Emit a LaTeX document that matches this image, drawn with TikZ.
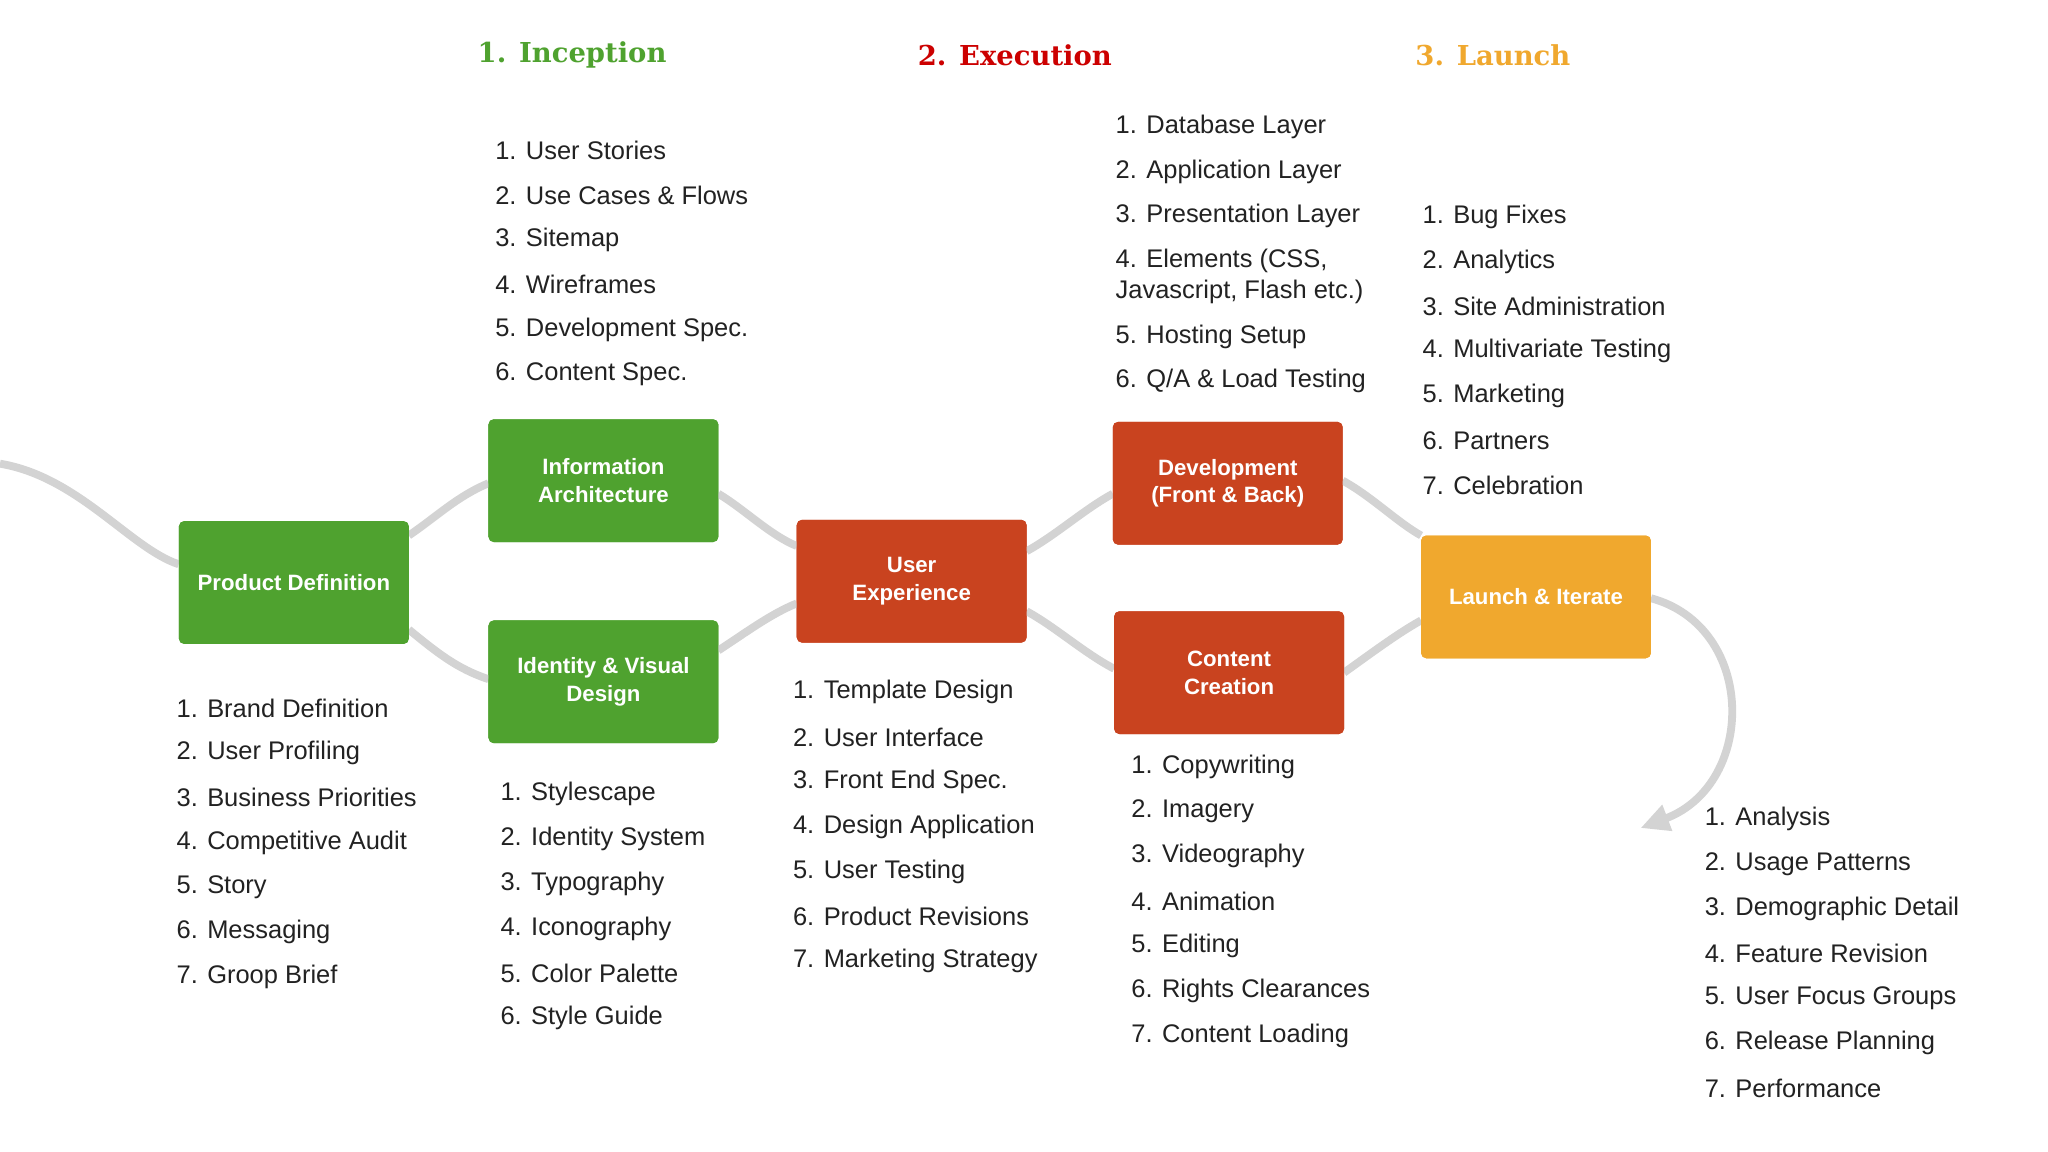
\documentclass[tikz,border=0pt]{standalone}
\usepackage{fontspec}
\setmainfont{Liberation Sans}
\newfontfamily\headfont{DejaVu Serif}
\usetikzlibrary{arrows.meta}
\definecolor{cgreen}{HTML}{4FA22F}
\definecolor{cred}{HTML}{C9431F}
\definecolor{corange}{HTML}{F0A82E}
\definecolor{cgray}{HTML}{D3D3D3}
\definecolor{ctext}{HTML}{222222}
\tikzset{
  box/.style={rounded corners=4pt, minimum width=176pt, minimum height=94pt, text=white, align=center, font=\fontsize{17}{21}\selectfont\bfseries, inner sep=0pt},
  gbox/.style={box, fill=cgreen},
  rbox/.style={box, fill=cred},
  obox/.style={box, fill=corange},
  item/.style={anchor=west, inner sep=0pt, text=ctext, font=\fontsize{19.5}{24}\selectfont},
  head/.style={inner sep=0pt, font=\headfont\fontsize{21}{25}\selectfont\bfseries},
  wire/.style={cgray, line width=6pt},
}
\newcommand{\mylist}[5]{% name, x, y, spacing, items
  \foreach \t [count=\i from 0] in {#5}{
    \pgfmathtruncatemacro{\n}{\i+1}
    \node[item] (#1\n) at (#2,{#3+\i*#4}) {\n. \t};
  }}
\begin{document}
\begin{tikzpicture}[x=1pt,y=-1pt]
\useasboundingbox[fill=white] (0,0) rectangle (1568,882);
% boxes
\node[gbox] (pd) at (225,446) {Product Definition};
\node[gbox] (ia) at (462,368) {Information\\Architecture};
\node[gbox] (iv) at (462,522) {Identity \& Visual\\Design};
\node[rbox] (ux) at (698,445) {User\\Experience};
\node[rbox] (dev) at (940,370) {Development\\(Front \& Back)};
\node[rbox] (cc) at (941,515) {Content\\Creation};
\node[obox] (li) at (1176,457) {Launch \& Iterate};
\coordinate (start) at (0,355);
\coordinate (endp) at (1256,634);
% wires
\begin{scope}[on background layer/.try]
\end{scope}
\draw[wire] (start) .. controls (60,365) and (100,420) .. (pd.west|-0,432);
\draw[wire] (313,410) .. controls (335,395) and (350,380) .. (374,370);
\draw[wire] (313,482) .. controls (335,500) and (350,512) .. (374,520);
\draw[wire] (550,378) .. controls (570,390) and (590,410) .. (610,418);
\draw[wire] (550,498) .. controls (570,485) and (590,470) .. (610,462);
\draw[wire] (786,422) .. controls (808,410) and (830,390) .. (852,378);
\draw[wire] (786,468) .. controls (808,480) and (830,500) .. (853,512);
\draw[wire] (1028,368) .. controls (1050,380) and (1070,400) .. (1088,410);
\draw[wire] (1029,515) .. controls (1050,500) and (1070,485) .. (1088,475);
\draw[wire, -{Triangle[length=22pt,width=20pt]}] (1264,458) .. controls (1345,480) and (1345,600) .. (endp);
\fill[cgreen] (ia.south west) ++(0,0); % no-op
% redraw boxes over wires
\node[gbox] at (pd) {Product Definition};
\node[gbox] at (ia) {Information\\Architecture};
\node[gbox] at (iv) {Identity \& Visual\\Design};
\node[rbox] at (ux) {User\\Experience};
\node[rbox] at (dev) {Development\\(Front \& Back)};
\node[rbox] at (cc) {Content\\Creation};
\node[obox] at (li) {Launch \& Iterate};
% headers
\node[head, text=cgreen] (h1) at (438,42) {1. Inception};
\node[head, text=red!80!black] (h2) at (777,42) {2. Execution};
\node[head, text=corange] (h3) at (1143,42) {3. Launch};
% lists
\mylist{a}{135}{542}{34.33}{Brand Definition,User Profiling,Business Priorities,Competitive Audit,Story,Messaging,Groop Brief}
\mylist{b}{379}{115}{34.33}{User Stories,Use Cases \& Flows,Sitemap,Wireframes,Development Spec.,Content Spec.}
\mylist{c}{383}{608}{34.33}{Stylescape,Identity System,Typography,Iconography,Color Palette,Style Guide}
\mylist{d}{607}{530}{34.33}{Template Design,User Interface,Front End Spec.,Design Application,User Testing,Product Revisions,Marketing Strategy}
\mylist{e}{854}{97}{34.33}{Database Layer,Application Layer,Presentation Layer}
\node[item, align=left] (e4) at (854,211.5) {4. Elements (CSS,\\Javascript, Flash etc.)};
\node[item] (e5) at (854,258) {5. Hosting Setup};
\node[item] (e6) at (854,292) {6. Q/A \& Load Testing};
\mylist{f}{866}{587}{34.33}{Copywriting,Imagery,Videography,Animation,Editing,Rights Clearances,Content Loading}
\mylist{g}{1089}{166}{34.33}{Bug Fixes,Analytics,Site Administration,Multivariate Testing,Marketing,Partners,Celebration}
\mylist{h}{1305}{627}{34.33}{Analysis,Usage Patterns,Demographic Detail,Feature Revision,User Focus Groups,Release Planning,Performance}
\end{tikzpicture}
\end{document}
